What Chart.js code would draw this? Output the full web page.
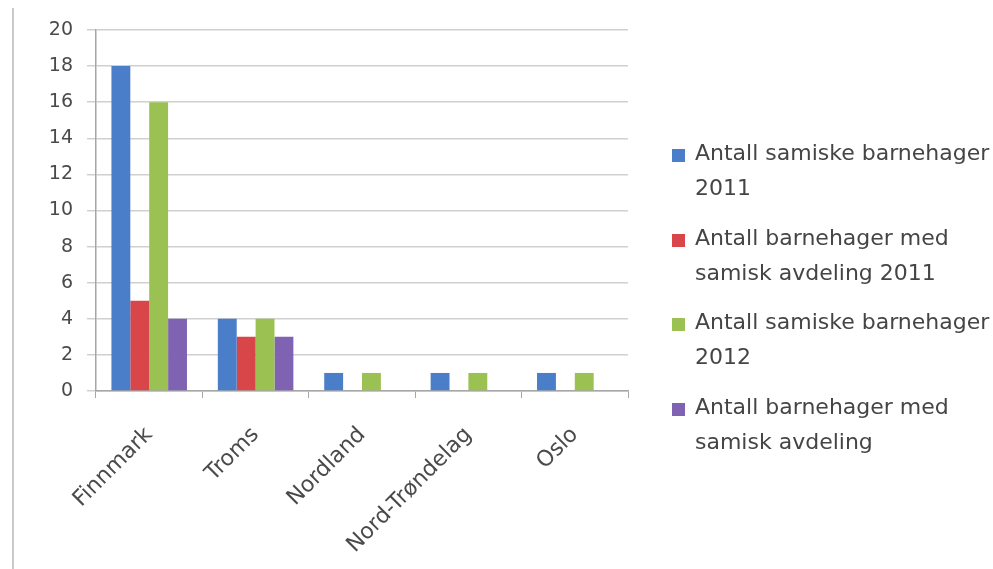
<!DOCTYPE html>
<html>
<head>
<meta charset="utf-8">
<script src="https://cdn.jsdelivr.net/npm/chart.js@4.4.0/dist/chart.umd.min.js"></script>
<style>
  html, body { margin: 0; padding: 0; background: #ffffff; }
  #wrap { position: relative; width: 993px; height: 569px; overflow: hidden; background: #fff; }
  #leftRule { position: absolute; left: 12px; top: 8px; width: 2px; height: 561px; background: #c9c9c9; }
  #chart { position: absolute; left: 0; top: 0; }
  #legend { position: absolute; left: 672px; top: 135px; font-family: "DejaVu Sans", sans-serif; font-size: 22px; color: #454545; white-space: nowrap; }
  .item { position: relative; padding-left: 23px; line-height: 35px; margin-bottom: 14.5px; }
  .sw { position: absolute; left: 0; top: 14px; width: 13px; height: 13px; }
</style>
</head>
<body>
<div id="wrap">
  <div id="leftRule"></div>
  <canvas id="chart" width="993" height="569"></canvas>
  <div id="legend"></div>
</div>
<script>
// ---- data ----
const categories = ["Finnmark", "Troms", "Nordland", "Nord-Trøndelag", "Oslo"];
const samiskeBarnehager2011 = [18, 4, 1, 1, 1];
const avdeling2011 = [5, 3, 0, 0, 0];
const samiskeBarnehager2012 = [16, 4, 1, 1, 1];
const avdeling2012 = [4, 3, 0, 0, 0];
const seriesLabels = [
  ["Antall samiske barnehager", "2011"],
  ["Antall barnehager med", "samisk avdeling 2011"],
  ["Antall samiske barnehager", "2012"],
  ["Antall barnehager med", "samisk avdeling"]
];
const yTicks = [0, 2, 4, 6, 8, 10, 12, 14, 16, 18, 20];
const seriesColors = ["#4a7ec8", "#d9464a", "#9bc153", "#7f62b2"];

const seriesValues = [samiskeBarnehager2011, avdeling2011, samiskeBarnehager2012, avdeling2012];

const datasets = seriesValues.map((vals, i) => ({
  label: seriesLabels[i].join(" "),
  data: vals,
  backgroundColor: seriesColors[i],
  borderWidth: 0,
  categoryPercentage: 0.71,
  barPercentage: 1.0
}));

const chart = new Chart(document.getElementById("chart"), {
  type: "bar",
  data: { labels: categories, datasets: datasets },
  options: {
    responsive: false,
    animation: false,
    layout: { padding: { left: 0, right: 365, top: 30, bottom: 0 } },
    plugins: { legend: { display: false }, tooltip: { enabled: false }, title: { display: false } },
    scales: {
      x: {
        afterFit: s => { s.height = 178; },
        grid: { display: true, drawOnChartArea: false, drawTicks: true, tickLength: 7, color: "#a6a6a6", lineWidth: 1, offset: true },
        border: { display: true, color: "#a6a6a6", width: 1.5 },
        ticks: { color: "#4a4a4a", font: { family: "DejaVu Sans", size: 22 }, minRotation: 45, maxRotation: 45, autoSkip: false, padding: 24 }
      },
      y: {
        min: 0, max: 20,
        afterFit: s => { s.width = 96; },
        afterBuildTicks: s => { s.ticks = yTicks.map(v => ({ value: v })); },
        grid: { color: "#d0d0d0", lineWidth: 1.5, tickLength: 9, drawTicks: true },
        border: { display: true, color: "#a6a6a6", width: 1.5 },
        ticks: { color: "#4a4a4a", font: { family: "DejaVu Sans", size: 19 }, padding: 14 }
      }
    }
  }
});

// HTML legend built from chart datasets
const legendEl = document.getElementById("legend");
chart.data.datasets.forEach((ds, i) => {
  const item = document.createElement("div");
  item.className = "item";
  const sw = document.createElement("span");
  sw.className = "sw";
  sw.style.background = ds.backgroundColor;
  item.appendChild(sw);
  seriesLabels[i].forEach(line => {
    const d = document.createElement("div");
    d.textContent = line;
    item.appendChild(d);
  });
  legendEl.appendChild(item);
});
</script>
</body>
</html>
